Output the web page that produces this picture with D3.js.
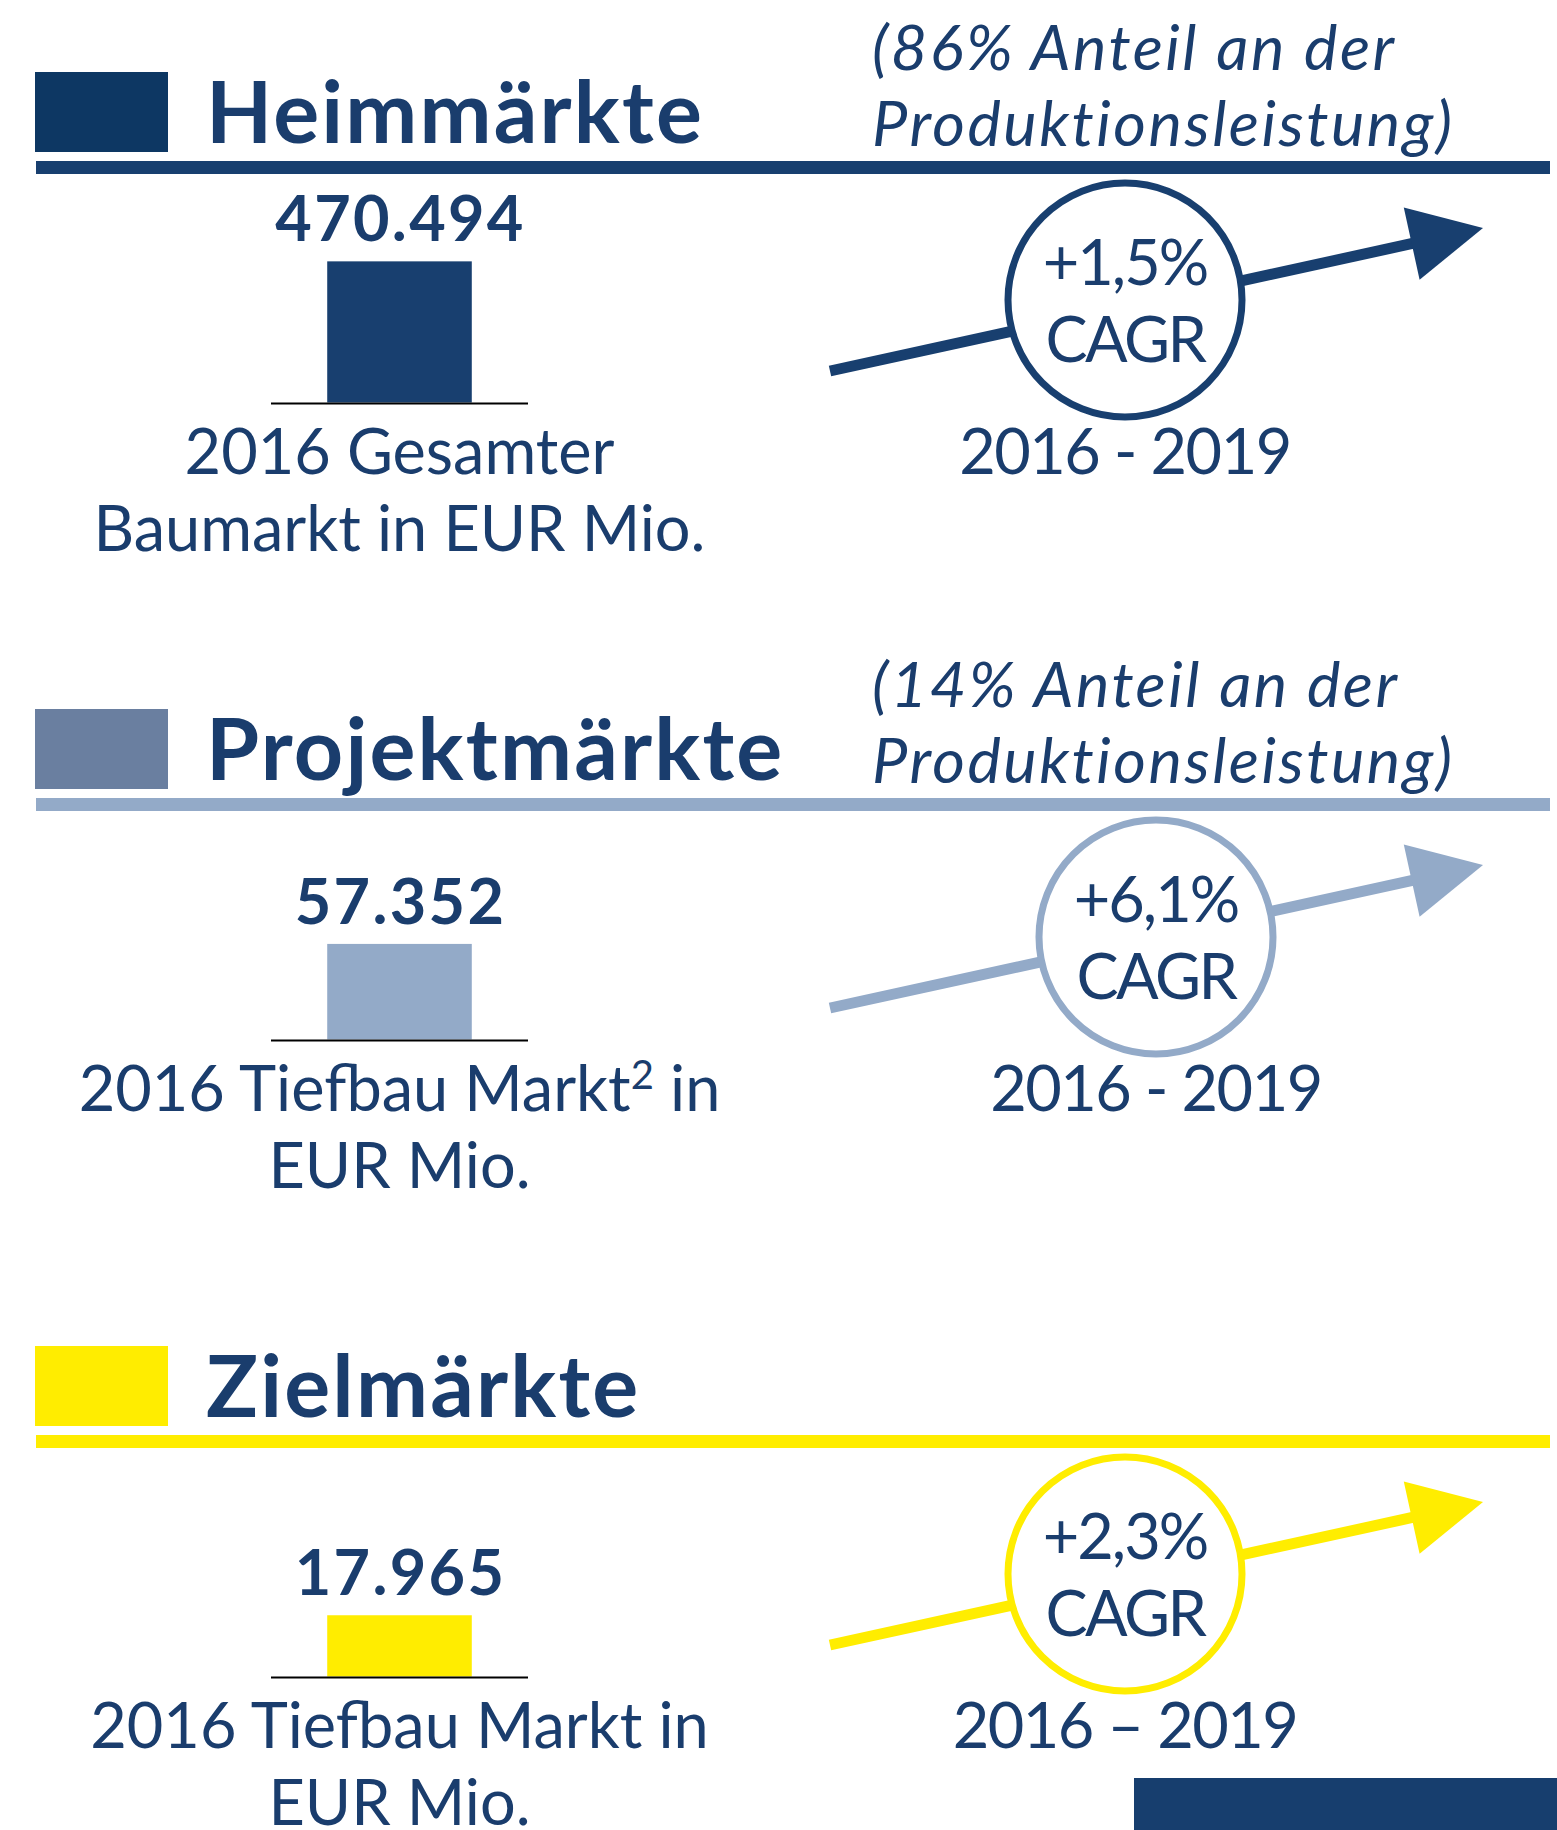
<!DOCTYPE html>
<html>
<head>
<meta charset="utf-8">
<script src="https://cdn.jsdelivr.net/npm/d3@7"></script>
<style>
  body { margin: 0; background: #fff; }
  svg { display: block; }
</style>
</head>
<body>
<div id="chart"></div>
<script>
// market segments, one panel each
var markets = ["Heimmärkte", "Projektmärkte", "Zielmärkte"];
var productionShare = ["86%", "14%", null];
var marketSize2016 = [470494, 57352, 17965];          // EUR Mio.
var sizeLabels = [
  ["2016 Gesamter", "Baumarkt in EUR Mio."],
  ["2016 Tiefbau Markt|2| in", "EUR Mio."],
  ["2016 Tiefbau Markt in", "EUR Mio."]
];
var cagr = [1.5, 6.1, 2.3];                           // % p.a.
var periods = ["2016 - 2019", "2016 - 2019", "2016 \u2013 2019"];
// every panel has its own bar axis
var axisMax = [500000, 90000, 44000];

var width = 1557,
    height = 1830,
    panelStep = 637;

var navy = "#1a3d6d";
var swatchColors = ["#0d3763", "#6a7fa0", "#ffed00"];
var accentColors = ["#183f6f", "#93aac8", "#ffed00"];
var circleX = [1125, 1156, 1125];

var de = d3.formatLocale({decimal: ",", thousands: ".", grouping: [3], currency: ["", " €"]});
var fmtValue = de.format(",");
var fmtCagr = function(d) { return de.format("+.1f")(d) + "%"; };

var font = "Lato, 'Noto Sans', sans-serif";

var svg = d3.select("#chart").append("svg")
    .attr("width", width)
    .attr("height", height)
    .style("font-family", font);

var panels = svg.selectAll("g.panel")
  .data(markets)
  .enter().append("g")
    .attr("class", "panel")
    .attr("transform", function(d, i) { return "translate(0," + (i * panelStep) + ")"; });

panels.each(function(name, i) {
  var g = d3.select(this);

  // legend swatch + title
  g.append("rect")
      .attr("x", 35).attr("y", 72)
      .attr("width", 133).attr("height", 80)
      .attr("fill", swatchColors[i]);

  g.append("text")
      .attr("x", 206).attr("y", 143)
      .attr("font-size", 86)
      .attr("font-weight", 700)
      .attr("letter-spacing", 2.2)
      .attr("fill", navy)
      .text(name);

  g.append("rect")
      .attr("x", 36).attr("y", 161)
      .attr("width", 1514).attr("height", 13)
      .attr("fill", accentColors[i]);

  if (productionShare[i]) {
    var share = g.append("text")
        .attr("x", 872)
        .attr("font-size", 63)
        .attr("font-style", "italic")
        .attr("letter-spacing", 2.5)
        .attr("fill", navy);
    share.append("tspan").attr("x", 872).attr("y", 70)
        .text("(" + productionShare[i] + " Anteil an der");
    share.append("tspan").attr("x", 872).attr("y", 146)
        .text("Produktionsleistung)");
  }

  // single bar with its own scale
  var x = d3.scaleBand()
      .domain(["2016"])
      .range([271, 528])
      .padding(0.28);

  var y = d3.scaleLinear()
      .domain([0, axisMax[i]])
      .range([402.5, 252.5]);

  g.append("rect")
      .attr("x", x("2016"))
      .attr("width", x.bandwidth())
      .attr("y", y(marketSize2016[i]))
      .attr("height", y(0) - y(marketSize2016[i]))
      .attr("fill", accentColors[i]);

  g.append("line")
      .attr("x1", 271).attr("x2", 528)
      .attr("y1", y(0) + 1).attr("y2", y(0) + 1)
      .attr("stroke", "#000")
      .attr("stroke-width", 2);

  var cx = x("2016") + x.bandwidth() / 2;

  g.append("text")
      .attr("x", cx + 1)
      .attr("y", y(marketSize2016[i]) - 20)
      .attr("text-anchor", "middle")
      .attr("font-size", 63)
      .attr("font-weight", 700)
      .attr("letter-spacing", 2.3)
      .attr("fill", navy)
      .text(fmtValue(marketSize2016[i]));

  sizeLabels[i].forEach(function(line, k) {
    var t = g.append("text")
        .attr("x", cx)
        .attr("y", 473.5 + k * 77)
        .attr("text-anchor", "middle")
        .attr("font-size", 63)
        .attr("fill", navy);
    // |2| marks a superscript
    line.split("|").forEach(function(part, j) {
      if (j % 2 === 1) {
        t.append("tspan").attr("font-size", 40).attr("dy", -22).text(part);
      } else {
        t.append("tspan").attr("dy", j > 0 ? 22 : 0).text(part);
      }
    });
  });

  // growth arrow
  var start = [830, 371], tip = [1483, 228];
  var ang = Math.atan2(tip[1] - start[1], tip[0] - start[0]);
  var headLen = 73, headHalf = 37;
  var back = [tip[0] - headLen * Math.cos(ang), tip[1] - headLen * Math.sin(ang)];
  var nx = -Math.sin(ang), ny = Math.cos(ang);

  g.append("line")
      .attr("x1", start[0]).attr("y1", start[1])
      .attr("x2", back[0] + 2 * Math.cos(ang)).attr("y2", back[1] + 2 * Math.sin(ang))
      .attr("stroke", accentColors[i])
      .attr("stroke-width", 11);

  g.append("path")
      .attr("d", d3.line()([
        tip,
        [back[0] + nx * headHalf, back[1] + ny * headHalf],
        [back[0] - nx * headHalf, back[1] - ny * headHalf]
      ]) + "Z")
      .attr("fill", accentColors[i]);

  g.append("circle")
      .attr("cx", circleX[i]).attr("cy", 300)
      .attr("r", 117)
      .attr("fill", "#fff")
      .attr("stroke", accentColors[i])
      .attr("stroke-width", 7);

  g.append("text")
      .attr("x", circleX[i]).attr("y", 285)
      .attr("text-anchor", "middle")
      .attr("font-size", 63)
      .attr("letter-spacing", -2)
      .attr("fill", navy)
      .text(fmtCagr(cagr[i]));

  g.append("text")
      .attr("x", circleX[i]).attr("y", 362)
      .attr("text-anchor", "middle")
      .attr("font-size", 63)
      .attr("letter-spacing", -2.5)
      .attr("fill", navy)
      .text("CAGR");

  g.append("text")
      .attr("x", circleX[i]).attr("y", 473.5)
      .attr("text-anchor", "middle")
      .attr("font-size", 63)
      .attr("letter-spacing", -1.5)
      .attr("fill", navy)
      .text(periods[i]);
});

// corner block
svg.append("rect")
    .attr("x", 1134).attr("y", 1778)
    .attr("width", width - 1134).attr("height", height - 1778)
    .attr("fill", "#173e6e");
</script>
</body>
</html>
